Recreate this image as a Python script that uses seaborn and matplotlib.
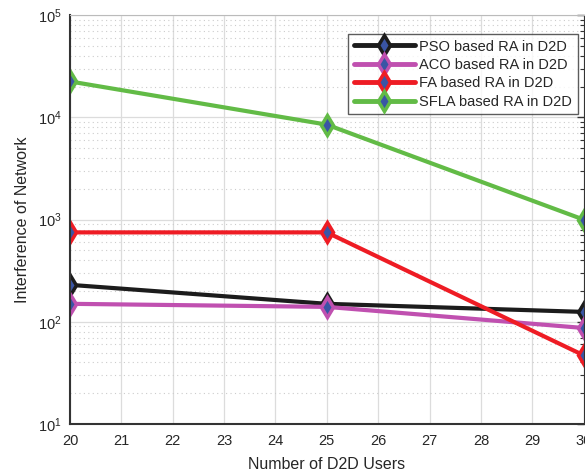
import matplotlib
matplotlib.use("Agg")
import matplotlib.pyplot as plt
import seaborn as sns
import pandas as pd
from matplotlib.ticker import LogLocator, NullFormatter

users = [20, 25, 30]
pso = [230, 150, 125]
aco = [150, 140, 87]
fa = [750, 750, 47]
sfla = [22500, 8500, 1000]
labels = ["PSO based RA in D2D", "ACO based RA in D2D",
          "FA based RA in D2D", "SFLA based RA in D2D"]
colors = ["#1c1c1c", "#c050b0", "#ee1c24", "#62bb46"]

rows = []
for lab, vals in zip(labels, [pso, aco, fa, sfla]):
    for u, v in zip(users, vals):
        rows.append({"users": u, "value": v, "method": lab})
df = pd.DataFrame(rows)

sns.set_style("white")
plt.rcParams["font.family"] = ["Liberation Sans", "DejaVu Sans"]

fig = plt.figure(figsize=(5.85, 4.72), dpi=100)
ax = fig.add_axes([0.1197, 0.1017, 0.878, 0.866])

sns.lineplot(data=df, x="users", y="value", hue="method", hue_order=labels,
             palette=colors, ax=ax, linewidth=3, marker="d", markersize=10,
             markerfacecolor="#3a55a5", markeredgewidth=2.5, legend=True)
for line, c in zip(ax.lines, colors):
    line.set_markeredgecolor(c)

ax.set_yscale("log")
ax.set_ylim(10, 1e5)
ax.set_xlim(20, 30)
ax.set_xticks(range(20, 31))
ax.yaxis.set_major_locator(LogLocator(base=10, numticks=10))
ax.yaxis.set_minor_locator(LogLocator(base=10, subs=range(2, 10), numticks=20))
ax.yaxis.set_minor_formatter(NullFormatter())

ax.grid(True, which="major", color="#dcdcdc", linewidth=0.9, linestyle="-")
ax.grid(True, which="minor", axis="y", color="#cccccc", linewidth=0.8, linestyle=(0, (1, 3)))
ax.set_axisbelow(True)

ax.tick_params(axis="both", which="both", direction="in", colors="#333333",
               labelcolor="#262626", labelsize=10.5, right=True, top=False)
ax.tick_params(axis="both", which="major", length=5, width=1)
ax.tick_params(axis="x", which="major", pad=7)
ax.tick_params(axis="y", which="major", pad=6)
ax.tick_params(axis="y", which="minor", length=3, width=0.8)
for s in ["left", "bottom"]:
    ax.spines[s].set_color("#333333")
    ax.spines[s].set_linewidth(1.5)
ax.spines["top"].set_color("#bbbbbb")
ax.spines["right"].set_color("#333333")

ax.set_xlabel("Number of D2D Users", fontsize=11.5, color="#262626", labelpad=7)
ax.set_ylabel("Interference of Network", fontsize=11.5, color="#262626", labelpad=6)

leg = ax.legend(loc="upper right", bbox_to_anchor=(0.995, 0.962), fontsize=10.5,
                frameon=True, fancybox=False, edgecolor="#333333",
                handlelength=4.2, borderpad=0.4, labelspacing=0.3,
                handletextpad=0.3, borderaxespad=0.2)
leg.get_frame().set_linewidth(1.0)
for h, c in zip(leg.legend_handles, colors):
    h.set_markeredgecolor(c)
    h.set_markerfacecolor("#3a55a5")
    h.set_linewidth(3.5)

fig.savefig("out.png", dpi=100)
